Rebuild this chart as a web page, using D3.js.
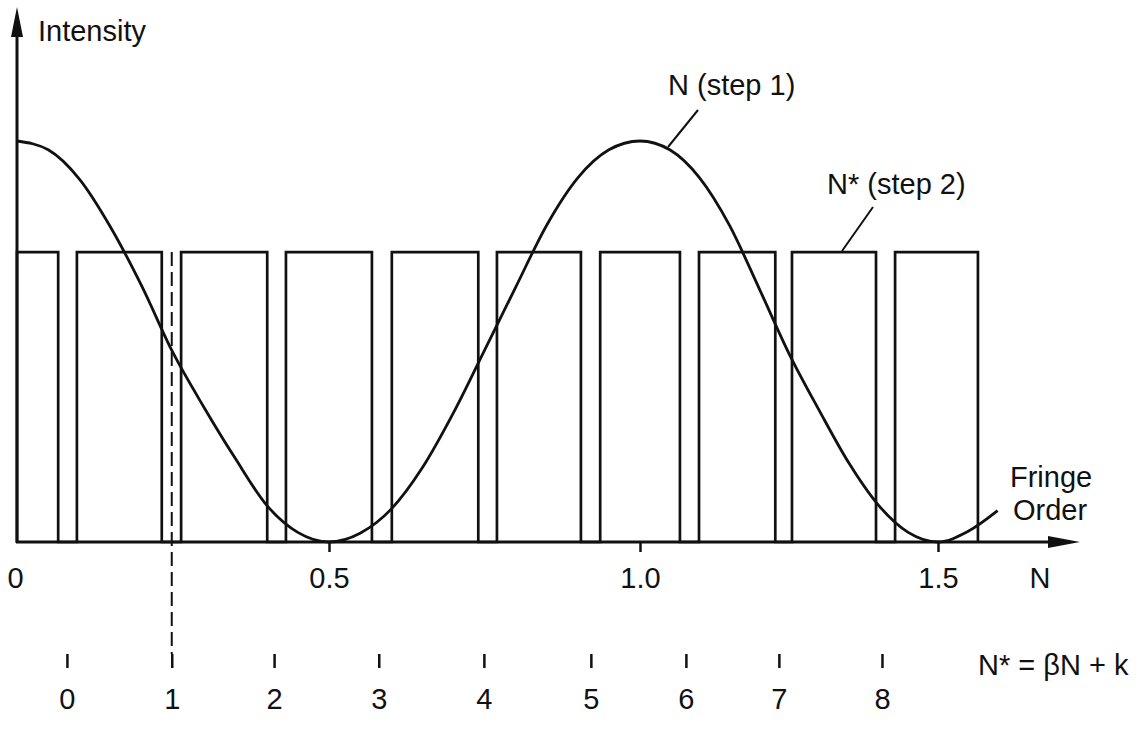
<!DOCTYPE html>
<html lang="en">
<head>
    <meta charset="UTF-8">
    <meta name="viewport" content="width=device-width, initial-scale=1.0">
    <script src="https://cdn.jsdelivr.net/npm/d3@7"></script>
    <title>Fringe Order</title>
    <style>
        body {
            margin: 0;
            background: white;
        }

        svg text {
            font-family: "Liberation Sans", Arial, sans-serif;
            font-size: 29px;
            fill: #111;
        }

        .axis path.domain {
            display: none;
        }

        .axis line {
            stroke: #111;
            stroke-width: 2.5px;
        }
    </style>
</head>
<body>
    <div id="chart"></div>

    <script>
        // N (step 1): intensity curve
        const curveN = [0, 0.05, 0.1, 0.15, 0.2, 0.25, 0.3, 0.35, 0.4, 0.45, 0.5,
            0.55, 0.6, 0.65, 0.7, 0.75, 0.8, 0.85, 0.9, 0.95, 1.0,
            1.05, 1.1, 1.15, 1.2, 1.25, 1.3, 1.35, 1.4, 1.45, 1.5, 1.55, 1.6];
        const curveI = [1.0, 0.978, 0.905, 0.785, 0.638, 0.472, 0.335, 0.208, 0.092, 0.024, 0,
            0.022, 0.082, 0.185, 0.322, 0.478, 0.635, 0.79, 0.908, 0.978, 1.0,
            0.978, 0.908, 0.79, 0.632, 0.47, 0.33, 0.198, 0.092, 0.024, 0, 0.026, 0.078];

        // N* (step 2): square wave pulses, in N units
        const pulseStart = [0, 0.096, 0.263, 0.431, 0.601, 0.770, 0.936, 1.099, 1.255, 1.428];
        const pulseEnd = [0.066, 0.232, 0.401, 0.569, 0.740, 0.905, 1.067, 1.227, 1.396, 1.567];
        const pulseLevel = 0.723;

        // N axis ticks
        const nTicks = [0, 0.5, 1.0, 1.5];
        const nTickLabels = ["0", "0.5", "1.0", "1.5"];

        // N* = beta N + k ticks (positions in N units)
        const nStarPos = [0.080, 0.248, 0.412, 0.580, 0.749, 0.921, 1.077, 1.233, 1.406];
        const nStarLabels = ["0", "1", "2", "3", "4", "5", "6", "7", "8"];
        const markedOrder = 1;

        const width = 1145, height = 745;
        const axisY = 542;

        const svg = d3.select("#chart").append("svg")
            .attr("width", width)
            .attr("height", height);

        // hand drawn axis is not quite even, so the scale is piecewise
        const x = d3.scaleLinear()
            .domain([0, 0.5, 1.0, 1.5])
            .range([17, 329, 640, 938]);
        const y = d3.scaleLinear()
            .domain([0, 1])
            .range([axisY, 141]);

        // square wave
        const sqPoints = [];
        pulseStart.forEach((s, i) => {
            sqPoints.push([s, 0], [s, pulseLevel], [pulseEnd[i], pulseLevel], [pulseEnd[i], 0]);
        });
        svg.append("path")
            .datum(sqPoints)
            .attr("fill", "none")
            .attr("stroke", "#111")
            .attr("stroke-width", 2.7)
            .attr("stroke-linejoin", "miter")
            .attr("d", d3.line().x(d => x(d[0])).y(d => y(d[1])));

        // cosine-like intensity curve
        const curveData = curveN.map((n, i) => [n, curveI[i]]);
        svg.append("path")
            .datum(curveData)
            .attr("fill", "none")
            .attr("stroke", "#111")
            .attr("stroke-width", 2.8)
            .attr("d", d3.line().x(d => x(d[0])).y(d => y(d[1])).curve(d3.curveMonotoneX));

        // N axis
        const xAxis = svg.append("g")
            .attr("class", "axis")
            .attr("transform", `translate(0,${axisY})`)
            .call(d3.axisBottom(x)
                .tickValues(nTicks)
                .tickSize(10)
                .tickPadding(15)
                .tickFormat((d, i) => nTickLabels[i]));
        xAxis.selectAll(".tick line").filter(d => d === 0).remove();
        xAxis.selectAll(".tick text").filter(d => d === 0).attr("dx", -2);

        // N* axis
        const starY = 654;
        svg.append("g")
            .attr("class", "axis")
            .attr("transform", `translate(0,${starY})`)
            .call(d3.axisBottom(x)
                .tickValues(nStarPos)
                .tickSize(14)
                .tickPadding(20)
                .tickFormat((d, i) => nStarLabels[i]));

        // dashed line at the marked order
        svg.append("line")
            .attr("x1", x(nStarPos[markedOrder]))
            .attr("x2", x(nStarPos[markedOrder]))
            .attr("y1", y(pulseLevel))
            .attr("y2", starY)
            .attr("stroke", "#111")
            .attr("stroke-width", 2)
            .attr("stroke-dasharray", "14,6");

        // axes lines with arrows
        svg.append("line")
            .attr("x1", 17).attr("x2", 17)
            .attr("y1", axisY + 1).attr("y2", 30)
            .attr("stroke", "#111").attr("stroke-width", 3);
        svg.append("path")
            .attr("d", "M17,7 L11,37 L23,37 Z")
            .attr("fill", "#111");
        svg.append("line")
            .attr("x1", 16).attr("x2", 1058)
            .attr("y1", axisY).attr("y2", axisY)
            .attr("stroke", "#111").attr("stroke-width", 3);
        svg.append("path")
            .attr("d", `M1080,${axisY} L1048,${axisY - 6} L1048,${axisY + 6} Z`)
            .attr("fill", "#111");

        // labels
        svg.append("text").attr("x", 38).attr("y", 41).text("Intensity");
        svg.append("text").attr("x", 1010).attr("y", 487).text("Fringe");
        svg.append("text").attr("x", 1013).attr("y", 520).text("Order");
        svg.append("text").attr("x", 1040).attr("y", 588).attr("text-anchor", "middle").text("N");
        svg.append("text").attr("x", 978).attr("y", 675).text("N* = βN + k");

        svg.append("text").attr("x", 668).attr("y", 95).text("N (step 1)");
        svg.append("line")
            .attr("x1", 698).attr("y1", 110).attr("x2", 668).attr("y2", 147)
            .attr("stroke", "#111").attr("stroke-width", 2);
        svg.append("text").attr("x", 827).attr("y", 194).text("N* (step 2)");
        svg.append("line")
            .attr("x1", 873).attr("y1", 207).attr("x2", 842).attr("y2", 251)
            .attr("stroke", "#111").attr("stroke-width", 2);
    </script>
</body>
</html>
